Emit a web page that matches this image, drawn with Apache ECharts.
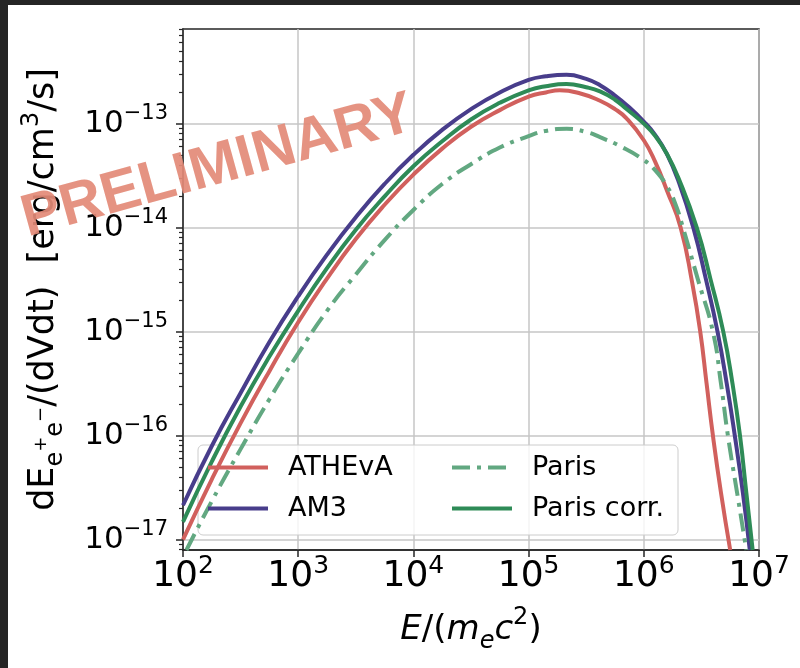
<!DOCTYPE html>
<html>
<head>
<meta charset="utf-8">
<script src="https://cdn.jsdelivr.net/npm/echarts@6/dist/echarts.min.js"></script>
<style>
html, body { margin: 0; padding: 0; background: #252525; }
#main { position: absolute; left: 8px; top: 5px; width: 792px; height: 663px; background: #fff; }
</style>
</head>
<body>
<div id="main"></div>
<script>
// log10(E/mec2) and log10(dE/dVdt)
var athevaE = [2.00, 2.25, 2.50, 2.75, 3.00, 3.25, 3.50, 3.75, 4.00, 4.25, 4.50, 4.75, 5.00, 5.15, 5.27, 5.45, 5.62, 5.75, 5.85, 6.00, 6.10, 6.20, 6.32, 6.42, 6.49, 6.545, 6.60, 6.67, 6.75];
var athevaF = [-17.00, -16.42, -15.88, -15.38, -14.91, -14.49, -14.11, -13.78, -13.49, -13.24, -13.03, -12.87, -12.74, -12.70, -12.68, -12.71, -12.78, -12.86, -12.95, -13.16, -13.37, -13.64, -14.00, -14.53, -15.00, -15.50, -16.00, -16.55, -17.10];

var am3E = [2.00, 2.25, 2.50, 2.75, 3.00, 3.25, 3.50, 3.75, 4.00, 4.25, 4.50, 4.75, 5.00, 5.15, 5.33, 5.50, 5.62, 5.75, 5.85, 6.00, 6.10, 6.20, 6.30, 6.43, 6.54, 6.64, 6.72, 6.79, 6.86, 6.92];
var am3F = [-16.67, -16.10, -15.59, -15.10, -14.66, -14.26, -13.90, -13.58, -13.30, -13.06, -12.86, -12.70, -12.58, -12.545, -12.53, -12.57, -12.63, -12.73, -12.82, -12.98, -13.11, -13.29, -13.55, -14.00, -14.50, -15.00, -15.50, -16.00, -16.55, -17.10];

var parisE = [2.03, 2.25, 2.50, 2.75, 3.00, 3.25, 3.50, 3.75, 4.00, 4.25, 4.50, 4.75, 5.00, 5.15, 5.33, 5.50, 5.62, 5.80, 6.00, 6.10, 6.20, 6.27, 6.34, 6.47, 6.60, 6.67, 6.73, 6.81, 6.89];
var parisF = [-17.10, -16.63, -16.13, -15.65, -15.21, -14.80, -14.45, -14.12, -13.83, -13.58, -13.39, -13.23, -13.12, -13.07, -13.05, -13.08, -13.13, -13.22, -13.35, -13.45, -13.60, -13.76, -14.00, -14.50, -15.00, -15.50, -16.00, -16.55, -17.10];

var corrE = [2.00, 2.25, 2.50, 2.75, 3.00, 3.25, 3.50, 3.75, 4.00, 4.25, 4.50, 4.75, 5.00, 5.15, 5.33, 5.50, 5.62, 5.75, 5.85, 6.00, 6.10, 6.20, 6.30, 6.46, 6.58, 6.69, 6.77, 6.835, 6.89, 6.945];
var corrF = [-16.83, -16.25, -15.72, -15.24, -14.80, -14.39, -14.02, -13.70, -13.41, -13.17, -12.96, -12.80, -12.68, -12.64, -12.62, -12.65, -12.69, -12.77, -12.86, -13.00, -13.12, -13.29, -13.52, -14.00, -14.50, -15.00, -15.50, -16.00, -16.55, -17.10];

var yTicks = [-17, -16, -15, -14, -13];

var FONT = 'DejaVu Sans';
var yMin = -17.1, yMax = -12.09;

function pairs(xs, ys) {
    return xs.map(function (x, i) { return [x, ys[i]]; });
}

// minor ticks at k*10^n on the log axis
var yMinor = [];
for (var n = -18; n <= -13; n++) {
    for (var k = 2; k <= 9; k++) {
        var v = n + Math.log10(k);
        if (v > yMin && v < yMax) yMinor.push(v);
    }
}

function legendCol(left, names) {
    return {
        orient: 'vertical',
        left: left, top: 449,
        itemGap: 14,
        itemWidth: 60,
        itemHeight: 27,
        padding: 0,
        selectedMode: false,
        itemStyle: { opacity: 0 },
        lineStyle: { width: 'inherit' },
        textStyle: { fontSize: 27, fontFamily: FONT, color: '#000', padding: [0, 0, 0, 15] },
        data: names
    };
}

var myChart = echarts.init(document.getElementById('main'));
var option = {
    animation: false,
    grid: {
        left: 175, top: 24, right: 41, bottom: 118,
        show: true, borderColor: '#262626', borderWidth: 1.5
    },
    legend: [
        legendCol(198, ['ATHEvA', 'AM3']),
        legendCol(442, ['Paris', 'Paris corr.'])
    ],
    xAxis: {
        type: 'value',
        min: 2, max: 7, interval: 1,
        axisLine: { show: true, lineStyle: { color: '#262626', width: 1.5 } },
        axisTick: { show: true, length: 7, lineStyle: { color: '#262626', width: 1.5 } },
        splitLine: { show: true, lineStyle: { color: '#c6c6c6', width: 1.5 } },
        axisLabel: {
            margin: 4,
            fontFamily: FONT,
            color: '#000',
            formatter: function (v) { return '{b|10}{e|' + v + '}'; },
            rich: {
                b: { fontSize: 36, lineHeight: 46, fontFamily: FONT, color: '#000' },
                e: { fontSize: 25, lineHeight: 32, verticalAlign: 'top', fontFamily: FONT, color: '#000' }
            }
        },
        name: '{i|E}{n|/(}{i|m}{sub|e}{i|c}{sup|2}{n|)}',
        nameLocation: 'middle',
        nameGap: 56,
        nameTextStyle: {
            color: '#000',
            rich: {
                i: { fontSize: 34, fontStyle: 'italic', lineHeight: 48, fontFamily: FONT, color: '#000' },
                n: { fontSize: 34, lineHeight: 48, fontFamily: FONT, color: '#000' },
                sub: { fontSize: 24, fontStyle: 'italic', lineHeight: 22, verticalAlign: 'bottom', fontFamily: FONT, color: '#000' },
                sup: { fontSize: 24, lineHeight: 24, verticalAlign: 'top', fontFamily: FONT, color: '#000' }
            }
        }
    },
    yAxis: [{
        type: 'value',
        min: yMin, max: yMax,
        axisLine: { show: true, lineStyle: { color: '#262626', width: 1.5 } },
        axisTick: { show: true, length: 7, customValues: yTicks, lineStyle: { color: '#262626', width: 1.5 } },
        splitLine: { show: true, lineStyle: { color: '#c6c6c6', width: 1.5 } },
        axisLabel: {
            margin: 15,
            customValues: yTicks,
            fontFamily: FONT,
            color: '#000',
            formatter: function (v) { return '{b|10}{e|\u2212' + Math.round(-v) + '}'; },
            rich: {
                b: { fontSize: 31, lineHeight: 42, fontFamily: FONT, color: '#000' },
                e: { fontSize: 21, lineHeight: 21, verticalAlign: 'top', fontFamily: FONT, color: '#000' }
            }
        },
        name: '{n|dE}{sub|e}{ss|+}{sub|e}{ss|\u2212}{n|/(dVdt)  [erg/cm}{sup|3}{n|/s]}',
        nameLocation: 'middle',
        nameRotate: 90,
        nameGap: 115,
        nameTextStyle: {
            color: '#000',
            rich: {
                n: { fontSize: 35, lineHeight: 48, fontFamily: FONT, color: '#000' },
                sub: { fontSize: 24, lineHeight: 30, verticalAlign: 'bottom', fontFamily: FONT, color: '#000' },
                ss: { fontSize: 18, lineHeight: 16, verticalAlign: 'middle', padding: [0, 0, 5, 0], fontFamily: FONT, color: '#000' },
                sup: { fontSize: 24, lineHeight: 15, verticalAlign: 'top', fontFamily: FONT, color: '#000' }
            }
        }
    }, {
        // minor ticks only
        type: 'value',
        position: 'left',
        min: yMin, max: yMax,
        axisLine: { show: false },
        axisTick: { show: true, length: 4, customValues: yMinor, lineStyle: { color: '#262626', width: 1.2 } },
        axisLabel: { show: false },
        splitLine: { show: false }
    }],
    series: [{
        name: 'ATHEvA',
        type: 'line',
        data: pairs(athevaE, athevaF),
        smooth: 0.5,
        symbol: 'none',
        color: '#d1605d',
        lineStyle: { width: 4, color: '#d1605d' }
    }, {
        name: 'AM3',
        type: 'line',
        data: pairs(am3E, am3F),
        smooth: 0.5,
        symbol: 'none',
        color: '#483d8b',
        lineStyle: { width: 4, color: '#483d8b' }
    }, {
        name: 'Paris',
        type: 'line',
        data: pairs(parisE, parisF),
        smooth: 0.5,
        symbol: 'none',
        color: '#62a881',
        lineStyle: { width: 4, color: '#62a881', type: [18, 7, 4, 7], cap: 'butt' }
    }, {
        name: 'Paris corr.',
        type: 'line',
        data: pairs(corrE, corrF),
        smooth: 0.5,
        symbol: 'none',
        color: '#2e8b57',
        lineStyle: { width: 4, color: '#2e8b57' }
    }],
    graphic: [{
        // legend frame
        type: 'rect',
        z: 3,
        shape: { x: 190, y: 440, width: 480, height: 90, r: 5 },
        style: { fill: 'rgba(255,255,255,0.8)', stroke: '#cccccc', lineWidth: 1 }
    }, {
        type: 'text',
        x: 210, y: 162,
        rotation: 0.27,
        z: 100,
        style: {
            text: 'PRELIMINARY',
            fill: '#e38a77',
            font: 'bold 59px "Liberation Sans"',
            align: 'center',
            verticalAlign: 'middle',
            opacity: 0.92
        }
    }]
};

myChart.setOption(option);
</script>
</body>
</html>
